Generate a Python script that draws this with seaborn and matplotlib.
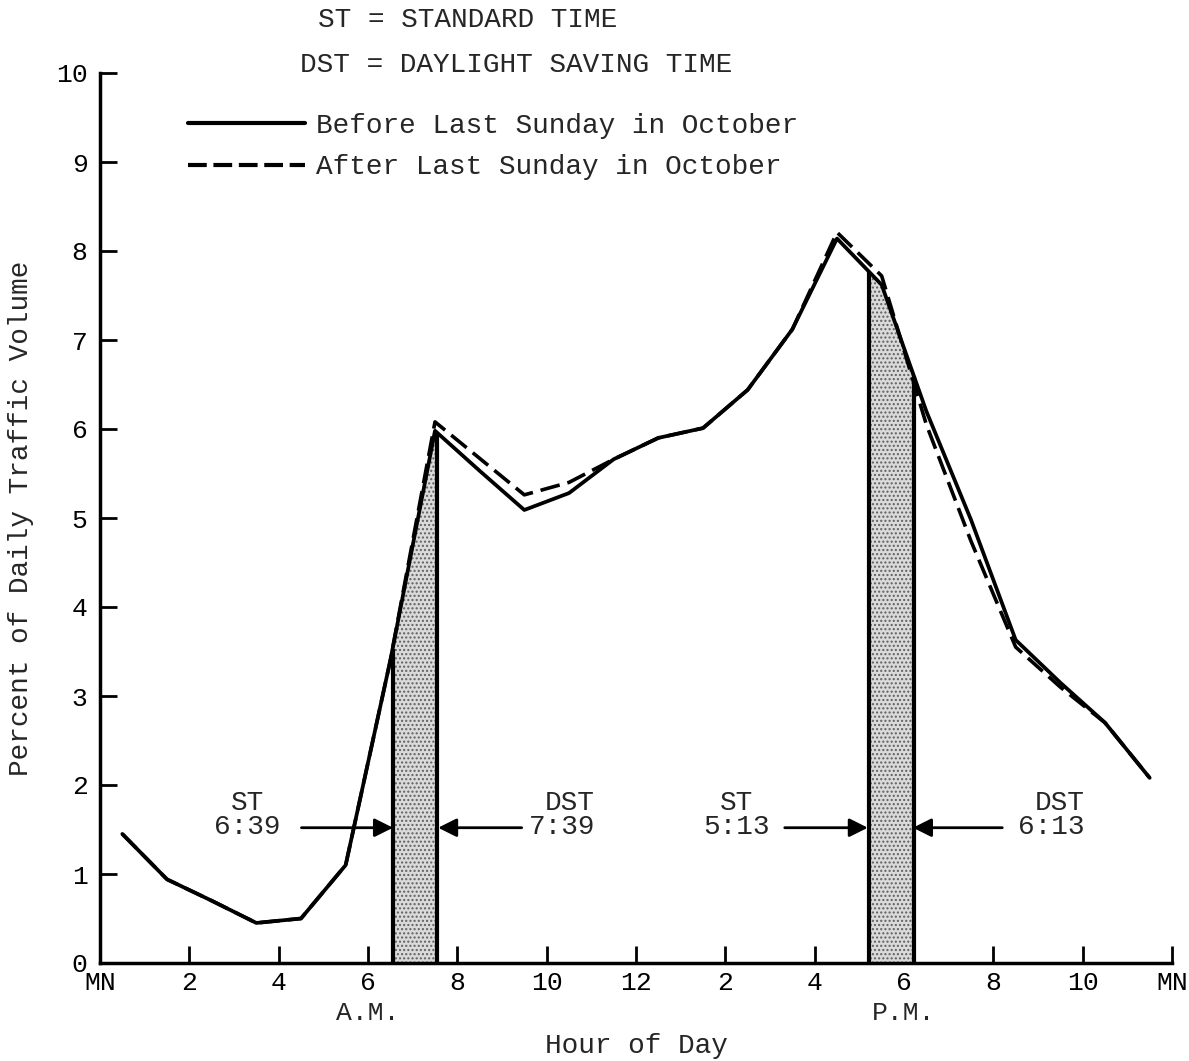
import numpy as np
import pandas as pd
import seaborn as sns
import matplotlib

matplotlib.use("Agg")
import matplotlib.pyplot as plt
from matplotlib.lines import Line2D

# hourly values, plotted at the middle of each hour
hours = [0.5, 1.5, 2.5, 3.5, 4.5, 5.5, 6.5, 7.5, 8.5, 9.5, 10.5, 11.5,
         12.5, 13.5, 14.5, 15.5, 16.5, 17.5, 18.5, 19.5, 20.5, 21.5, 22.5, 23.5]
before_oct = [1.45, 0.94, 0.70, 0.45, 0.50, 1.10, 3.40, 5.98, 5.53, 5.09, 5.28, 5.66,
              5.90, 6.01, 6.44, 7.12, 8.14, 7.62, 6.20, 4.98, 3.63, 3.15, 2.70, 2.08]
after_oct = [1.45, 0.94, 0.70, 0.45, 0.50, 1.10, 3.40, 6.08, 5.67, 5.26, 5.40, 5.66,
             5.90, 6.01, 6.44, 7.12, 8.21, 7.72, 6.05, 4.74, 3.55, 3.10, 2.70, 2.08]

before_name = "Before Last Sunday in October"
after_name = "After Last Sunday in October"

# dusk / dawn bands (hours)
am_band = [6.55, 7.55]
pm_band = [17.22, 18.22]

x_ticks = [0, 2, 4, 6, 8, 10, 12, 14, 16, 18, 20, 22, 24]
x_labels = ["MN", "2", "4", "6", "8", "10", "12", "2", "4", "6", "8", "10", "MN"]
y_ticks = [0, 1, 2, 3, 4, 5, 6, 7, 8, 9, 10]

# arrow annotations: label, label x, alignment, arrow tail, arrow tip
notes = ["ST\n6:39", "DST\n7:39", "ST\n5:13", "DST\n6:13"]
note_x = [3.3, 11.08, 14.25, 22.05]
note_ha = ["center", "right", "center", "right"]
arrow_tail = [4.51, 9.44, 15.33, 20.2]
arrow_tip = [6.56, 7.57, 17.19, 18.2]
arrow_level = 1.52

sns.set_style("ticks")
plt.rcParams["font.family"] = ["Liberation Mono", "DejaVu Sans Mono"]
plt.rcParams["hatch.linewidth"] = 1.0

before_df = pd.DataFrame({"hour": hours, "pct": before_oct})
after_df = pd.DataFrame({"hour": hours, "pct": after_oct})

fig = plt.figure(figsize=(11.89, 10.61), dpi=100)
ax = fig.add_axes([100 / 1189, 98 / 1061, 1072 / 1189, 890 / 1061])

# dashed first so the solid line covers it where both agree
sns.lineplot(data=after_df, x="hour", y="pct", color="black", lw=2.6,
             linestyle=(0, (5.5, 2.2)), ax=ax, zorder=3)
sns.lineplot(data=before_df, x="hour", y="pct", color="black", lw=2.7,
             ax=ax, zorder=4)

# shaded bands under the "before" curve
for band in [am_band, pm_band]:
    xs = np.linspace(band[0], band[1], 40)
    ys = np.interp(xs, hours, before_oct)
    ax.fill_between(xs, 0, ys, facecolor="#dadada", edgecolor="#606060",
                    hatch="....", linewidth=0, zorder=1)
    ax.vlines(band, 0, np.interp(band, hours, before_oct), color="black",
              lw=3, zorder=2)

# arrows and labels
for txt, tx, ha, tail, tip in zip(notes, note_x, note_ha, arrow_tail, arrow_tip):
    ax.annotate("", xy=(tip, arrow_level), xytext=(tail, arrow_level),
                arrowprops=dict(arrowstyle="-|>", color="black", lw=2,
                                mutation_scale=28, shrinkA=0, shrinkB=0))
    ax.text(tx, 1.665, txt, ha=ha, va="center", multialignment=ha,
            fontsize=20, linespacing=0.9)

# header and legend
ax.text(4.88, 10.6, "ST = STANDARD TIME", ha="left", va="center", fontsize=20)
ax.text(4.48, 10.09, "DST = DAYLIGHT SAVING TIME", ha="left", va="center", fontsize=20)
handles = [
    Line2D([], [], color="black", lw=3),
    Line2D([], [], color="black", lw=3, linestyle=(0, (4.5, 1.6))),
]
ax.legend(handles, [before_name, after_name], loc="upper left",
          bbox_to_anchor=(0.082, 0.955), frameon=False, fontsize=20,
          handlelength=4.2, handletextpad=0.4, labelspacing=0.55,
          borderpad=0, borderaxespad=0)

# am / pm marks
ax.text(6, -0.056, "A.M.", transform=ax.get_xaxis_transform(),
        ha="center", va="center", fontsize=19)
ax.text(18, -0.056, "P.M.", transform=ax.get_xaxis_transform(),
        ha="center", va="center", fontsize=19)

ax.set_xlim(0, 24)
ax.set_ylim(0, 10)
ax.set_xticks(x_ticks)
ax.set_xticklabels(x_labels)
ax.set_yticks(y_ticks)
ax.tick_params(direction="in", length=12, width=2, labelsize=19, colors="black")
ax.tick_params(axis="x", pad=6)
ax.tick_params(axis="y", pad=9)
ax.set_xlabel("Hour of Day", fontsize=20, labelpad=27)
ax.set_ylabel("Percent of Daily Traffic Volume", fontsize=20, labelpad=16)

sns.despine(ax=ax)
for side in ["left", "bottom"]:
    ax.spines[side].set_linewidth(2.5)
    ax.spines[side].set_color("black")

fig.savefig("out.png", dpi=100)
